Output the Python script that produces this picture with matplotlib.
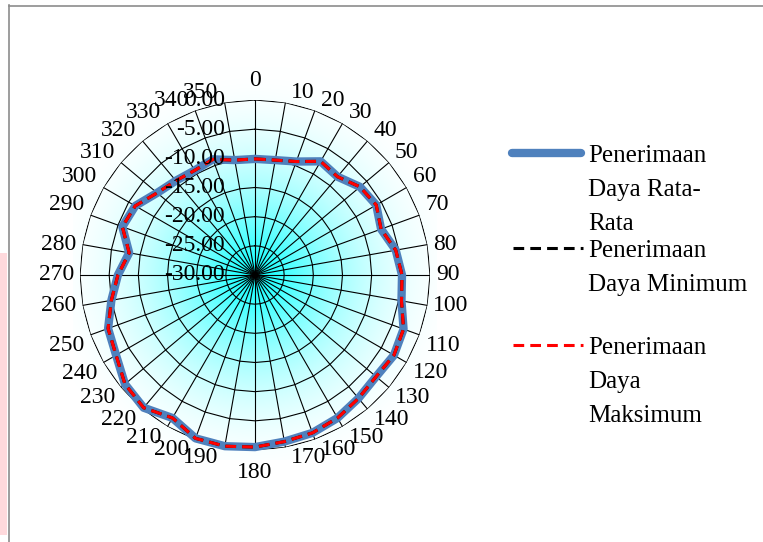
import numpy as np
import matplotlib
matplotlib.use("Agg")
import matplotlib.pyplot as plt
from matplotlib.patches import Rectangle

# data (dBm per 10 degree step)
angles_deg = list(range(0, 360, 10))
avg_dbm = [-10.1, -10.0, -9.3, -7.5, -8.0, -6.5, -6.0, -7.0, -5.5, -4.8,
           -4.5, -2.9, -2.5, -2.9, -2.4, -1.7, -1.2, -1.0, -0.5, -0.2,
           -0.2, -1.7, -0.3, -0.9, -2.5, -3.2, -5.0, -6.5, -8.1, -5.8,
           -6.3, -8.1, -8.9, -9.3, -8.9, -10.0]
min_dbm = list(avg_dbm)
max_dbm = list(avg_dbm)
r_ticks = [-30, -25, -20, -15, -10, -5, 0]
r_labels = ["-30.00", "-25.00", "-20.00", "-15.00", "-10.00", "-5.00", "0.00"]
series_names = ["Penerimaan\nDaya Rata-\nRata",
                "Penerimaan\nDaya Minimum",
                "Penerimaan\nDaya\nMaksimum"]

plt.rcParams['font.family'] = ['Liberation Serif', 'DejaVu Serif']
FS = 17

fig = plt.figure(figsize=(7.63, 5.42), dpi=100)

# background layer in pixel coordinates (gradient, frame, legend)
bg = fig.add_axes([0, 0, 1, 1])
bg.set_xlim(0, 763)
bg.set_ylim(542, 0)
bg.axis('off')

yy, xx = np.mgrid[67:460, 73:437] + 0.5
rr = np.hypot(xx - 255, yy - 275)
t = 1 - (1 - np.clip(rr / 210, 0, 1)) ** 2
grad = np.dstack([t, np.ones_like(t), np.ones_like(t)])
bg.imshow(grad, extent=(73, 437, 460, 67), interpolation='bilinear', aspect='auto')

bg.add_patch(Rectangle((0, 253), 7, 282, color='#ffd9dc', lw=0))
bg.plot([8.5, 8.5], [5, 542], color='#8c8c8c', lw=1.2)
bg.plot([8.5, 763], [5.5, 5.5], color='#8c8c8c', lw=1.2)

# radar chart
ax = fig.add_axes([80 / 763, (542 - 275 - 175) / 542, 350 / 763, 350 / 542],
                  projection='polar')
ax.set_theta_zero_location('N')
ax.set_theta_direction(-1)
ax.set_ylim(-30, 0)
ax.patch.set_alpha(0)
ax.spines['polar'].set_visible(False)
ax.grid(False)
ax.set_xticks([])
ax.set_yticks([])

theta = np.deg2rad(angles_deg)
tc = np.append(theta, theta[0])

for v in r_ticks[1:]:
    ax.plot(tc, [v] * len(tc), color='black', lw=0.8)
for th in theta:
    ax.plot([th, th], [-30, 0], color='black', lw=0.8)

def closed(vals):
    return vals + vals[:1]

ax.plot(tc, closed(avg_dbm), color='#4f81bd', lw=6, solid_joinstyle='round',
        solid_capstyle='round', clip_on=False, zorder=5)
ax.plot(tc, closed(min_dbm), color='black', lw=2.2, ls=(0, (3.5, 2)),
        clip_on=False, zorder=6)
ax.plot(tc, closed(max_dbm), color='red', lw=2.2, ls=(0, (3.5, 2)),
        clip_on=False, zorder=7)

# category labels
for a, th in zip(angles_deg, theta):
    s, c = np.sin(th), np.cos(th)
    if abs(s) < 0.05:
        ha, dx = 'center', 0
    elif s > 0:
        ha, dx = 'left', 6
    else:
        ha, dx = 'right', -6
    dy = 0
    if c > 0.3:
        va = 'bottom'
    elif c < -0.3:
        va = 'top'
    else:
        va = 'center'
    if ha == 'center':
        dy = 9 if c > 0 else -12
    ax.annotate(str(a), xy=(th, 0), xytext=(dx, dy), textcoords='offset pixels',
                ha=ha, va=va, fontsize=FS, annotation_clip=False, zorder=8)

# value axis labels
for v, lab in zip(r_ticks, r_labels):
    ax.annotate(lab, xy=(0, v), xytext=(-30, 0), textcoords='offset pixels',
                ha='right', va='center', fontsize=FS, annotation_clip=False, zorder=8)

# legend
leg_y = [153, 248, 345]
bg.plot([512, 581], [leg_y[0]] * 2, color='#4f81bd', lw=6, solid_capstyle='round')
bg.plot([513, 583], [leg_y[1]] * 2, color='black', lw=2.2, ls=(0, (3.5, 2)))
bg.plot([513, 583], [leg_y[2]] * 2, color='red', lw=2.2, ls=(0, (3.5, 2)))
for y, name in zip(leg_y, series_names):
    bg.text(588, y - 8, name, ha='left', va='top', fontsize=18, linespacing=1.72)

fig.savefig("out.png", dpi=100)
